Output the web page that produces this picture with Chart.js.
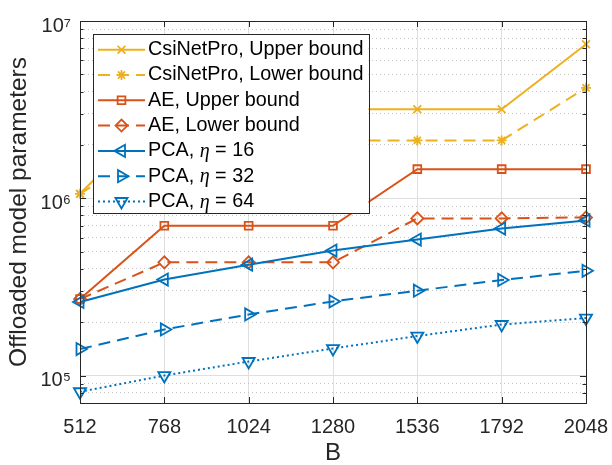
<!DOCTYPE html>
<html>
<head>
<meta charset="utf-8">
<script src="https://cdn.jsdelivr.net/npm/chart.js@4.4.1/dist/chart.umd.min.js"></script>
<style>
  html, body { margin: 0; padding: 0; background: #fff; }
  #wrap { width: 612px; height: 465px; }
</style>
</head>
<body>
<div id="wrap"><canvas id="paramChart" width="612" height="465"></canvas></div>
<script>
// data
const blockLengths = ['512', '768', '1024', '1280', '1536', '1792', '2048'];
const csiUpper = [1.06e6, 3.18e6, 3.18e6, 3.18e6, 3.18e6, 3.18e6, 7.4e6];
const csiLower = [1.06e6, 2.12e6, 2.12e6, 2.12e6, 2.12e6, 2.12e6, 4.2e6];
const aeUpper = [2.7e5, 7.0e5, 7.0e5, 7.0e5, 1.46e6, 1.46e6, 1.46e6];
const aeLower = [2.7e5, 4.35e5, 4.35e5, 4.35e5, 7.7e5, 7.7e5, 7.8e5];
const pca16 = [2.6e5, 3.48e5, 4.22e5, 5.07e5, 5.85e5, 6.75e5, 7.5e5];
const pca32 = [1.41e5, 1.82e5, 2.21e5, 2.62e5, 3.01e5, 3.46e5, 3.9e5];
const pca64 = [8.1e4, 1.0e5, 1.2e5, 1.42e5, 1.67e5, 1.94e5, 2.11e5];

const yMin = 7e4;
const yMax = 1e7;
const yDecades = [1e5, 1e6, 1e7];
const superscripts = { 5: '\u2075', 6: '\u2076', 7: '\u2077' };

const yellow = '#EDB120';
const orange = '#D95319';
const blue = '#0072BD';
const axisColor = '#262626';
const majorGrid = '#dfdfdf';
const minorGrid = '#c4c4c4';

// minor ticks 1..9 per decade, inside the axis range
const yTicks = [];
for (let e = 4; e <= 6; e++) {
  for (let m = 1; m <= 9; m++) {
    const v = m * Math.pow(10, e);
    if (v >= yMin && v <= yMax) yTicks.push(v);
  }
}
yTicks.push(yMax);

function isDecade(v) {
  const l = Math.log10(v);
  return Math.abs(l - Math.round(l)) < 1e-9;
}

Chart.defaults.font.family = '"Liberation Sans", Arial, Helvetica, sans-serif';
Chart.defaults.color = axisColor;

function series(label, data, color, dash, style, rotation, radius) {
  return {
    label: label,
    data: data,
    borderColor: color,
    backgroundColor: color,
    borderWidth: 2,
    borderDash: dash,
    pointStyle: style,
    rotation: rotation,
    pointRadius: radius,
    pointBorderWidth: 1.8,
    pointBackgroundColor: 'rgba(0,0,0,0)',
    pointBorderColor: color,
    tension: 0,
    fill: false,
    clip: false
  };
}

const datasets = [
  series('CsiNetPro, Upper bound', csiUpper, yellow, [], 'crossRot', 0, 5.5),
  series('CsiNetPro, Lower bound', csiLower, yellow, [12, 7], 'star', 0, 5),
  series('AE, Upper bound', aeUpper, orange, [], 'rect', 0, 5.5),
  series('AE, Lower bound', aeLower, orange, [12, 7], 'rectRot', 0, 6),
  series('PCA, \u03b7 = 16', pca16, blue, [], 'triangle', -90, 7),
  series('PCA, \u03b7 = 32', pca32, blue, [12, 7], 'triangle', 90, 7),
  series('PCA, \u03b7 = 64', pca64, blue, [2, 3], 'triangle', 180, 7)
];
// later series drawn on top, like the original
datasets.forEach((ds, i) => { ds.order = -i; });

// axes box with inside tick marks
const boxPlugin = {
  id: 'axesBox',
  afterDatasetsDraw(chart) {
    const { ctx, chartArea: a, scales } = chart;
    ctx.save();
    ctx.strokeStyle = axisColor;
    ctx.lineWidth = 1;
    ctx.beginPath();
    scales.y.ticks.forEach(t => {
      const py = Math.round(scales.y.getPixelForValue(t.value)) + 0.5;
      const len = isDecade(t.value) ? 6 : 3.5;
      ctx.moveTo(a.left, py); ctx.lineTo(a.left + len, py);
      ctx.moveTo(a.right, py); ctx.lineTo(a.right - len, py);
    });
    scales.x.ticks.forEach((t, i) => {
      const px = Math.round(scales.x.getPixelForTick(i)) + 0.5;
      ctx.moveTo(px, a.bottom); ctx.lineTo(px, a.bottom - 6);
      ctx.moveTo(px, a.top); ctx.lineTo(px, a.top + 6);
    });
    ctx.stroke();
    ctx.strokeRect(Math.round(a.left) + 0.5, Math.round(a.top) + 0.5,
      Math.round(a.right - a.left), Math.round(a.bottom - a.top));
    ctx.restore();
  }
};

// legend boxed inside the axes, top left
const legendPlugin = {
  id: 'insideLegend',
  afterDraw(chart) {
    const { ctx, chartArea: a } = chart;
    const font = '19.8px "Liberation Sans", Arial, sans-serif';
    const etaFont = 'italic 20px "Liberation Serif", "Times New Roman", serif';
    const rowH = 25.3;
    const x0 = a.left + 13;
    const y0 = a.top + 13;
    ctx.save();

    // split labels around eta so it can be set in italic
    const parts = chart.data.datasets.map(ds => ds.label.split('\u03b7'));
    function textWidth(p) {
      ctx.font = font;
      let w = ctx.measureText(p[0]).width;
      if (p.length > 1) {
        w += ctx.measureText(p[1]).width;
        ctx.font = etaFont;
        w += ctx.measureText('\u03b7').width;
      }
      return w;
    }
    const maxW = Math.max(...parts.map(textWidth));
    const boxW = 55 + maxW + 5;
    const boxH = rowH * parts.length + 2;

    ctx.fillStyle = '#fff';
    ctx.fillRect(x0, y0, boxW, boxH);
    ctx.strokeStyle = axisColor;
    ctx.lineWidth = 1;
    ctx.strokeRect(Math.round(x0) + 0.5, Math.round(y0) + 0.5, Math.round(boxW), Math.round(boxH));

    chart.data.datasets.forEach((ds, i) => {
      const cy = y0 + 15.7 + i * rowH;
      ctx.strokeStyle = ds.borderColor;
      ctx.lineWidth = ds.borderWidth;
      ctx.setLineDash(ds.borderDash);
      ctx.beginPath();
      ctx.moveTo(x0 + 5, cy);
      ctx.lineTo(x0 + 52, cy);
      ctx.stroke();
      ctx.setLineDash([]);
      ctx.lineWidth = ds.pointBorderWidth;
      ctx.fillStyle = 'rgba(0,0,0,0)';
      Chart.helpers.drawPoint(ctx, {
        pointStyle: ds.pointStyle,
        rotation: ds.rotation,
        radius: ds.pointRadius,
        borderWidth: ds.pointBorderWidth
      }, x0 + 28.5, cy);

      ctx.fillStyle = '#000';
      ctx.textBaseline = 'middle';
      ctx.textAlign = 'left';
      const p = parts[i];
      let tx = x0 + 55;
      ctx.font = font;
      ctx.fillText(p[0], tx, cy);
      tx += ctx.measureText(p[0]).width;
      if (p.length > 1) {
        ctx.font = etaFont;
        ctx.fillText('\u03b7', tx, cy + 1);
        tx += ctx.measureText('\u03b7').width;
        ctx.font = font;
        ctx.fillText(p[1], tx, cy);
      }
    });
    ctx.restore();
  }
};

new Chart(document.getElementById('paramChart').getContext('2d'), {
  type: 'line',
  data: { labels: blockLengths, datasets: datasets },
  plugins: [boxPlugin, legendPlugin],
  options: {
    responsive: false,
    animation: false,
    layout: { padding: { top: 18, right: 26, left: 0, bottom: 0 } },
    plugins: { legend: { display: false }, tooltip: { enabled: false } },
    scales: {
      x: {
        type: 'category',
        offset: false,
        grid: { color: majorGrid, drawTicks: false },
        border: { display: false },
        ticks: { font: { size: 20 }, padding: 12, color: axisColor, maxRotation: 0, autoSkip: false },
        title: { display: true, text: 'B', font: { size: 24, lineHeight: 1 }, padding: 0, color: axisColor },
        afterFit(scale) {
          scale.height = 62;
          scale.paddingLeft = 0;
          scale.paddingRight = 0;
        }
      },
      y: {
        type: 'logarithmic',
        position: 'left',
        min: yMin,
        max: yMax,
        afterBuildTicks(scale) { scale.ticks = yTicks.map(v => ({ value: v })); },
        grid: {
          color: c => (c.tick && isDecade(c.tick.value)) ? 'rgba(0,0,0,0)' : minorGrid,
          drawTicks: false
        },
        border: { display: false, dash: [1, 3] },
        ticks: {
          autoSkip: false,
          padding: 9,
          labelOffset: 5,
          font: { size: 20 },
          color: axisColor,
          callback: v => isDecade(v) ? '10' + superscripts[Math.round(Math.log10(v))] : ''
        },
        title: {
          display: true,
          text: 'Offloaded model parameters',
          font: { size: 24.5, lineHeight: 1 },
          padding: { top: 7, bottom: 0 },
          color: axisColor
        },
        afterFit(scale) { scale.width = 80; }
      },
      yMajor: {
        type: 'logarithmic',
        position: 'left',
        min: yMin,
        max: yMax,
        afterBuildTicks(scale) { scale.ticks = yDecades.map(v => ({ value: v })); },
        grid: { color: majorGrid, drawTicks: false },
        border: { display: false },
        ticks: { display: false },
        afterFit(scale) { scale.width = 0; }
      }
    }
  }
});
</script>
</body>
</html>
